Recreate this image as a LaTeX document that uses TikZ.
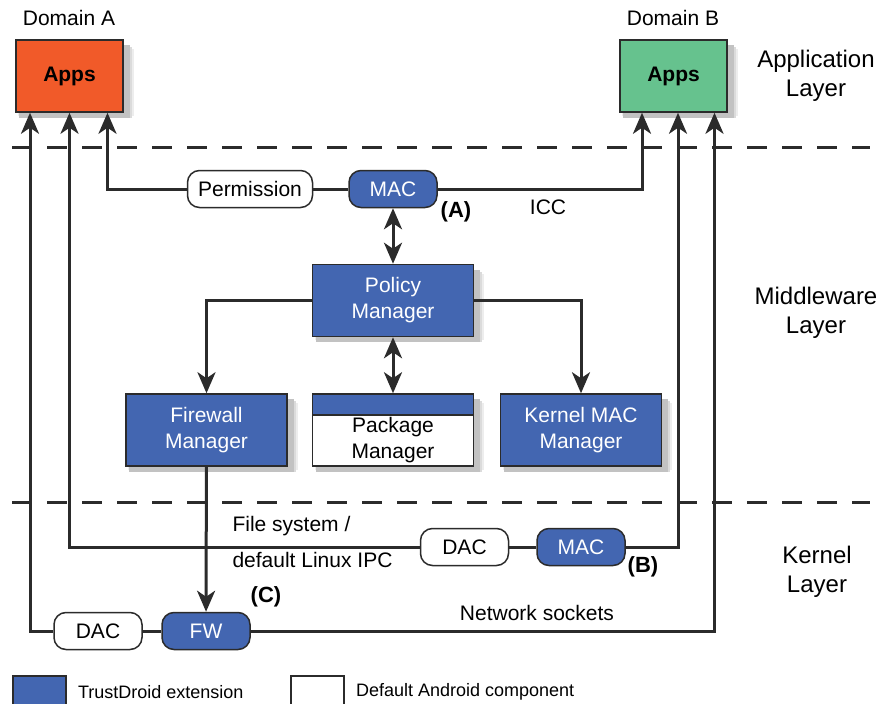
\documentclass[tikz,border=0pt]{standalone}
\usepackage{fontspec}
\setmainfont{Liberation Sans}
\usetikzlibrary{arrows.meta,positioning,backgrounds}
\definecolor{tdblue}{HTML}{4366B1}
\definecolor{domA}{HTML}{F15A29}
\definecolor{domB}{HTML}{66C28E}
\definecolor{edge}{HTML}{2B2B2B}

\begin{document}
\begin{tikzpicture}[x=1pt,y=-1pt,font=\fontsize{21}{26}\selectfont,
box/.style={draw=edge,line width=1.5pt,fill=tdblue,text=white,align=center,minimum width=161pt,minimum height=72pt},
appbox/.style={draw=edge,line width=1.5pt,minimum width=107pt,minimum height=72pt,font=\fontsize{21}{26}\selectfont\bfseries},
check/.style={draw=edge,line width=1.5pt,rounded corners=12pt,minimum width=88pt,minimum height=37pt,fill=white},
ext/.style={check,fill=tdblue,text=white},
link/.style={line width=3pt,draw=edge},
arr/.style={link,-{Stealth[length=21pt,width=18pt,inset=6pt]}},
both/.style={link,{Stealth[length=21pt,width=18pt,inset=6pt]}-{Stealth[length=21pt,width=18pt,inset=6pt]}},
layer/.style={line width=3pt,draw=edge,dash pattern=on 20pt off 15pt},
layertag/.style={align=center,font=\fontsize{24}{29}\selectfont},
tagtext/.style={font=\fontsize{22}{26}\selectfont\bfseries},
key/.style={draw=edge,line width=1.5pt,minimum width=53pt,minimum height=40pt,anchor=north west}]
\useasboundingbox (0,0) rectangle (881,704);
% layer borders
\draw[layer] (12,147) -- (870,147);
\draw[layer] (12,502) -- (870,502);
% application layer
\node (domainA) at (69,18) {Domain A};
\node (domainB) at (673,18) {Domain B};
\node[appbox,fill=domA] (appsA) at (69.5,76) {Apps};
\node[appbox,fill=domB] (appsB) at (673.5,76) {Apps};
\node[layertag] (applayer) at (816,76) {Application\\Layer};
% middleware layer
\node[check,minimum width=125pt] (perm) at (250,189) {Permission};
\node[ext] (macA) at (393,189) {MAC};
\node[tagtext] (tagA) at (456,212) {(A)};
\node (icc) at (548,207) {ICC};
\node[box] (pm) at (393,300.5) {Policy\\Manager};
\node[box] (fwm) at (206.5,430) {Firewall\\Manager};
\node[box,fill=white,path picture={\fill[tdblue] (path picture bounding box.north west) rectangle ([yshift=-21pt]path picture bounding box.north east);
  \draw[edge,line width=1.5pt] ([yshift=-21pt]path picture bounding box.north west) -- ([yshift=-21pt]path picture bounding box.north east);}] (pkg) at (393,430) {};
\node[align=center] (pkgname) at ([yshift=-10.5pt]pkg.center) {Package\\Manager};
\node[box] (kmm) at (581,430) {Kernel MAC\\Manager};
\node[layertag] (midlayer) at (816,313) {Middleware\\Layer};
% kernel layer
\node[check] (dacM) at (464.5,547) {DAC};
\node[ext] (macB) at (581,547) {MAC};
\node[tagtext] (tagB) at (643,567) {(B)};
\node[anchor=west] (fs) at (229,526) {File system /};
\node[anchor=west] (ipc) at (229,560) {default Linux IPC};
\node[check] (dacK) at (98,631) {DAC};
\node[ext] (fw) at (206,631) {FW};
\node[tagtext] (tagC) at (266,597) {(C)};
\node (sockets) at (537,613) {Network sockets};
\node[layertag] (kernlayer) at (817,572) {Kernel\\Layer};
% soft shadows behind the boxes
\begin{scope}[on background layer]
\foreach \b in {appsA,appsB,pm,fwm,pkg,kmm}{
  \fill[black!7] ([xshift=3pt,yshift=-3pt]\b.south west) rectangle ([xshift=10pt,yshift=-10pt]\b.north east);
  \fill[black!14] ([xshift=4pt,yshift=-5pt]\b.south west) rectangle ([xshift=8pt,yshift=-8pt]\b.north east);
  \fill[black!24] ([xshift=4pt,yshift=-5pt]\b.south west) rectangle ([xshift=6pt,yshift=-6pt]\b.north east);
}
\end{scope}
% connectors
\draw[arr] (perm.west) -| ([xshift=38pt]appsA.south);
\draw[link] (perm) -- (macA);
\draw[arr] (macA.east) -| ([xshift=-31.5pt]appsB.south);
\draw[both] (macA) -- (pm);
\draw[arr] (pm.west) -| (fwm.north);
\draw[arr] (pm.east) -| (kmm.north);
\draw[both] (pm) -- (pkg);
\draw[arr] (fwm) -- (fw);
\draw[arr] (dacM.west) -| (appsA.south);
\draw[link] (dacM) -- (macB);
\draw[arr] (macB.east) -| ([xshift=4.5pt]appsB.south);
\draw[arr] (dacK.west) -| ([xshift=-39.5pt]appsA.south);
\draw[link] (dacK) -- (fw);
\draw[arr] (fw.east) -| ([xshift=41pt]appsB.south);
% legend
\node[key,fill=tdblue] (keyext) at (12,675) {};
\node[right=8pt of keyext,yshift=4pt,font=\fontsize{18}{22}\selectfont] (keyexttext) {TrustDroid extension};
\node[key,fill=white] (keydef) at (290,675) {};
\node[right=8pt of keydef,yshift=4pt,font=\fontsize{18}{22}\selectfont] (keydeftext) {Default Android component};
\end{tikzpicture}
\end{document}
